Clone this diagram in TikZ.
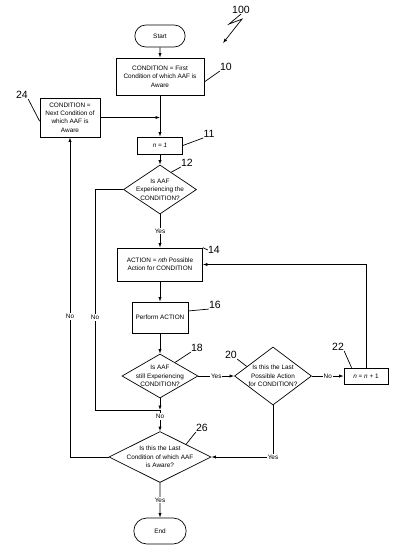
\documentclass[tikz,border=0pt]{standalone}
\usepackage{fontspec}
\setmainfont{Liberation Sans}
\usetikzlibrary{shapes.geometric,shapes.misc,arrows.meta}
\begin{document}
\begin{tikzpicture}[x=1pt, y=-1pt, line width=.7, >={Latex[length=4.5pt,width=3.2pt]},
  ztxt/.style={font=\fontsize{6.4}{8.4}\selectfont, align=center},
  zbox/.style={ztxt, draw, inner sep=1pt},
  zdec/.style={ztxt, draw, diamond, inner xsep=-14pt, inner ysep=-9pt},
  zterm/.style={ztxt, draw, rounded rectangle},
  znum/.style={font=\fontsize{10.5}{12}\selectfont, inner sep=0},
  zyn/.style={font=\fontsize{6.4}{7}\selectfont, fill=white, inner sep=1pt}]
\useasboundingbox (0,0) rectangle (400,550);
% main column
\node[zterm, minimum width=57pt, minimum height=22pt] (start) at (160,36) {Start};
\node[zbox, minimum width=88pt, minimum height=37pt] (b10) at (160,76.5) {CONDITION = First\\Condition of which AAF is\\Aware};
\node[zbox, minimum width=60pt, minimum height=39pt] (b24) at (70,117.5) {CONDITION =\\Next Condition of\\which AAF is\\Aware};
\node[zbox, minimum width=45pt, minimum height=17pt] (b11) at (160,145.5) {\textit{n = 1}};
\node[zdec, minimum width=73pt, minimum height=49pt] (d12) at (160,189.5) {Is AAF\\Experiencing the\\CONDITION?};
\node[zbox, minimum width=85pt, minimum height=33pt] (b14) at (160,264.5) {ACTION = \textit{nth} Possible\\Action for CONDITION};
\node[zbox, minimum width=56pt, minimum height=31pt] (b16) at (160,317.5) {Perform ACTION};
\node[zdec, minimum width=76pt, minimum height=44pt] (d18) at (160,376) {Is AAF\\still Experiencing\\CONDITION?};
\node[zdec, minimum width=77pt, minimum height=58pt] (d20) at (273,376) {Is this the Last\\Possible Action\\for CONDITION?};
\node[zbox, minimum width=44pt, minimum height=16pt] (b22) at (366,376) {\textit{n} = \textit{n} + 1};
\node[zdec, minimum width=102pt, minimum height=51pt] (d26) at (160,457) {Is this the Last\\Condition of which AAF\\is Aware?};
\node[zterm, minimum width=59pt, minimum height=26pt] (end) at (160,531) {End};
\coordinate (c12) at (95,410);
\coordinate (j18) at (160,410);
% flow
\draw[->] (start) -- (b10);
\draw[->] (b10) -- (b11);
\draw[->] (b24.east) -- (b24.east -| b10.south);
\draw[->] (b11) -- (d12);
\draw[->] (d12) -- node[zyn]{Yes} (b14);
\draw[->] (b14) -- (b16);
\draw[->] (b16) -- (d18);
\draw[->] (d18) -- node[zyn]{Yes} (d20);
\draw[->] (d20) -- node[zyn]{No} (b22);
\draw[->] (b22.north) |- (b14.east);
\draw (d12.west) -| node[zyn, pos=.79]{No} (c12) -- (j18);
\draw[->] (d18) -- (j18);
\draw[->] (j18) -- node[zyn, pos=.3]{No} (d26);
\draw[->] (d20) |- node[zyn]{Yes} (d26);
\draw[->] (d26) -| node[zyn, pos=.72]{No} (b24);
\draw[->] (d26) -- node[zyn]{Yes} (end);
% reference numerals
\node[znum] (n100) at (241,10) {100};
\node[znum] (n10) at (226,67) {10};
\node[znum] (n11) at (209,134) {11};
\node[znum] (n12) at (187,163) {12};
\node[znum] (n14) at (214,250) {14};
\node[znum] (n16) at (215,305) {16};
\node[znum] (n18) at (197,348) {18};
\node[znum] (n20) at (231,355) {20};
\node[znum] (n22) at (338,347) {22};
\node[znum] (n24) at (22,95) {24};
\node[znum] (n26) at (202,428) {26};
\draw[->] (n100.south) -- ++(-12,10) -- ++(13,-5) -- ++(-19,24);
\foreach \a/\b in {b10.-7/n10.south west, b11.east/n11.south west, d12.57/n12.south west, b14.north east/n14.west, b16.13/n16.south west, d18.42/n18.south west, d20.160/n20.south east, b22.150/n22.south east, b24.187/n24.south east, d26.26/n26.south west}{\draw (\a) -- (\b);}
\end{tikzpicture}
\end{document}
